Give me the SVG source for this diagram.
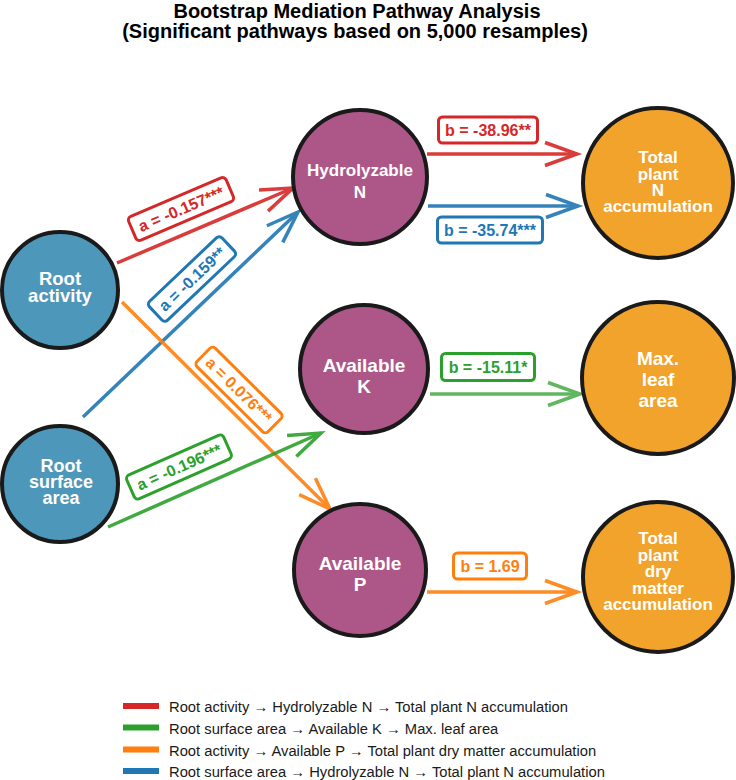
<svg xmlns="http://www.w3.org/2000/svg" width="736" height="780" viewBox="0 0 736 780">
  <style>
    .title { font-family: "Liberation Sans", Arial, sans-serif; font-weight: bold; font-size: 20px; fill: #000; }
    .node circle { stroke: #1a1a1a; stroke-width: 4; }
    .pred circle { fill: #4d97ba; }
    .med circle { fill: #ad5789; }
    .out circle { fill: #f1a32b; }
    .node text { font-family: "Liberation Sans", Arial, sans-serif; font-weight: bold; fill: #fff; text-anchor: middle; }
    .edge { fill: none; stroke-width: 3.5; }
    .red { stroke: #d62728; }
    .blue { stroke: #1f77b4; }
    .green { stroke: #2ca02c; }
    .orange { stroke: #ff7f0e; }
    .lbl rect { fill: #fff; stroke-width: 3; }
    .lbl text { font-family: "Liberation Sans", Arial, sans-serif; font-weight: bold; font-size: 16px; text-anchor: middle; }
    .legend text { font-family: "Liberation Sans", Arial, sans-serif; font-size: 14.75px; fill: #1a1a1a; }
    .legend line { stroke-width: 6; }
  </style>
  <defs>
    <marker id="head-red" markerUnits="userSpaceOnUse" orient="auto" overflow="visible" markerWidth="1" markerHeight="1">
      <path d="M-32,-11.5 L0,0 L-32,11.5" fill="none" stroke="#d62728" stroke-width="3.5"/>
    </marker>
    <marker id="head-blue" markerUnits="userSpaceOnUse" orient="auto" overflow="visible" markerWidth="1" markerHeight="1">
      <path d="M-32,-11.5 L0,0 L-32,11.5" fill="none" stroke="#1f77b4" stroke-width="3.5"/>
    </marker>
    <marker id="head-green" markerUnits="userSpaceOnUse" orient="auto" overflow="visible" markerWidth="1" markerHeight="1">
      <path d="M-32,-11.5 L0,0 L-32,11.5" fill="none" stroke="#2ca02c" stroke-width="3.5"/>
    </marker>
    <marker id="head-orange" markerUnits="userSpaceOnUse" orient="auto" overflow="visible" markerWidth="1" markerHeight="1">
      <path d="M-32,-11.5 L0,0 L-32,11.5" fill="none" stroke="#ff7f0e" stroke-width="3.5"/>
    </marker>
  </defs>

  <rect width="736" height="780" fill="#fff"/>

  <!-- Title -->
  <text class="title" x="357" y="18" text-anchor="middle">Bootstrap Mediation Pathway Analysis</text>
  <text class="title" x="355" y="38" text-anchor="middle">(Significant pathways based on 5,000 resamples)</text>

  <!-- Connectors -->
  <g id="connectors">
    <line class="edge red" x1="117" y1="263" x2="293" y2="188" opacity="0.9" marker-end="url(#head-red)"/>
    <line class="edge blue" x1="83" y1="417" x2="298" y2="212" opacity="0.9" marker-end="url(#head-blue)"/>
    <line class="edge orange" x1="122" y1="302" x2="330" y2="509" opacity="0.9" marker-end="url(#head-orange)"/>
    <line class="edge green" x1="108" y1="527" x2="321" y2="433" opacity="0.9" marker-end="url(#head-green)"/>
    <line class="edge red" x1="427" y1="154" x2="577" y2="154" opacity="0.9" marker-end="url(#head-red)"/>
    <line class="edge blue" x1="428" y1="206" x2="578" y2="206" opacity="0.9" marker-end="url(#head-blue)"/>
    <line class="edge green" x1="430" y1="394" x2="580" y2="394" opacity="0.75" marker-end="url(#head-green)"/>
    <line class="edge orange" x1="427" y1="592" x2="577" y2="592" opacity="0.9" marker-end="url(#head-orange)"/>

    <!-- Path coefficient labels -->
    <g class="lbl" transform="translate(181,209) rotate(-23.1)">
      <rect x="-53" y="-13" width="106" height="26" rx="4" stroke="#d62728"/>
      <text y="5.7" fill="#d62728">a = -0.157***</text>
    </g>
    <g class="lbl" transform="translate(192,279) rotate(-43.5)">
      <rect x="-50" y="-13" width="100" height="26" rx="4" stroke="#1f77b4"/>
      <text y="5.7" fill="#1f77b4">a = -0.159**</text>
    </g>
    <g class="lbl" transform="translate(239,390) rotate(44.7)">
      <rect x="-50" y="-13" width="100" height="26" rx="4" stroke="#ff7f0e"/>
      <text y="5.7" fill="#ff7f0e">a = 0.076***</text>
    </g>
    <g class="lbl" transform="translate(179,467) rotate(-23.9)">
      <rect x="-53" y="-13" width="106" height="26" rx="4" stroke="#2ca02c"/>
      <text y="5.7" fill="#2ca02c">a = -0.196***</text>
    </g>
    <g class="lbl" transform="translate(488,130)">
      <rect x="-49.5" y="-13" width="99" height="26" rx="4" stroke="#d62728"/>
      <text y="5.7" fill="#d62728">b = -38.96**</text>
    </g>
    <g class="lbl" transform="translate(490,230)">
      <rect x="-52.5" y="-13" width="105" height="26" rx="4" stroke="#1f77b4"/>
      <text y="5.7" fill="#1f77b4">b = -35.74***</text>
    </g>
    <g class="lbl" transform="translate(488,367)">
      <rect x="-46.5" y="-13.5" width="93" height="27" rx="4" stroke="#2ca02c"/>
      <text y="5.7" fill="#2ca02c">b = -15.11*</text>
    </g>
    <g class="lbl" transform="translate(490,566)">
      <rect x="-36.5" y="-13" width="73" height="26" rx="4" stroke="#ff7f0e"/>
      <text y="5.7" fill="#ff7f0e">b = 1.69</text>
    </g>
  </g>

  <!-- Predictors -->
  <g id="root-activity" class="node pred">
    <circle cx="60" cy="290" r="58"/>
    <text font-size="18.5"><tspan x="60" y="285">Root</tspan><tspan x="60" dy="17">activity</tspan></text>
  </g>
  <g id="root-surface-area" class="node pred">
    <circle cx="60" cy="484" r="58"/>
    <text font-size="18"><tspan x="61" y="472">Root</tspan><tspan x="61" dy="16">surface</tspan><tspan x="61" dy="15.5">area</tspan></text>
  </g>

  <!-- Mediators -->
  <g id="hydrolyzable-n" class="node med">
    <circle cx="360" cy="177" r="67"/>
    <text font-size="17"><tspan x="360" y="176">Hydrolyzable</tspan><tspan x="360" dy="22">N</tspan></text>
  </g>
  <g id="available-k" class="node med">
    <circle cx="364" cy="369" r="64"/>
    <text font-size="19"><tspan x="364" y="372">Available</tspan><tspan x="364" dy="21">K</tspan></text>
  </g>
  <g id="available-p" class="node med">
    <circle cx="360" cy="570" r="66"/>
    <text font-size="19"><tspan x="360" y="570">Available</tspan><tspan x="360" dy="20.5">P</tspan></text>
  </g>

  <!-- Outcomes -->
  <g id="total-plant-n" class="node out">
    <circle cx="658" cy="183" r="75"/>
    <text font-size="17"><tspan x="658" y="163">Total</tspan><tspan x="658" dy="16.5">plant</tspan><tspan x="658" dy="16.5">N</tspan><tspan x="658" dy="16">accumulation</tspan></text>
  </g>
  <g id="max-leaf-area" class="node out">
    <circle cx="658" cy="378" r="76"/>
    <text font-size="19"><tspan x="658" y="365">Max.</tspan><tspan x="658" dy="21">leaf</tspan><tspan x="658" dy="21">area</tspan></text>
  </g>
  <g id="total-dry-matter" class="node out">
    <circle cx="658" cy="577" r="75"/>
    <text font-size="17"><tspan x="658" y="544">Total</tspan><tspan x="658" dy="16.5">plant</tspan><tspan x="658" dy="16.5">dry</tspan><tspan x="658" dy="17">matter</tspan><tspan x="658" dy="16">accumulation</tspan></text>
  </g>

  <!-- Legend -->
  <g class="legend">
    <line x1="123" y1="706" x2="159" y2="706" stroke="#d62728"/>
    <text x="169" y="712">Root activity → Hydrolyzable N → Total plant N accumulation</text>
    <line x1="123" y1="727.5" x2="159" y2="727.5" stroke="#2ca02c"/>
    <text x="169" y="733.5">Root surface area → Available K → Max. leaf area</text>
    <line x1="123" y1="749.5" x2="159" y2="749.5" stroke="#ff7f0e"/>
    <text x="169" y="755.5">Root activity → Available P → Total plant dry matter accumulation</text>
    <line x1="123" y1="771" x2="159" y2="771" stroke="#1f77b4"/>
    <text x="169" y="777">Root surface area → Hydrolyzable N → Total plant N accumulation</text>
  </g>
</svg>
